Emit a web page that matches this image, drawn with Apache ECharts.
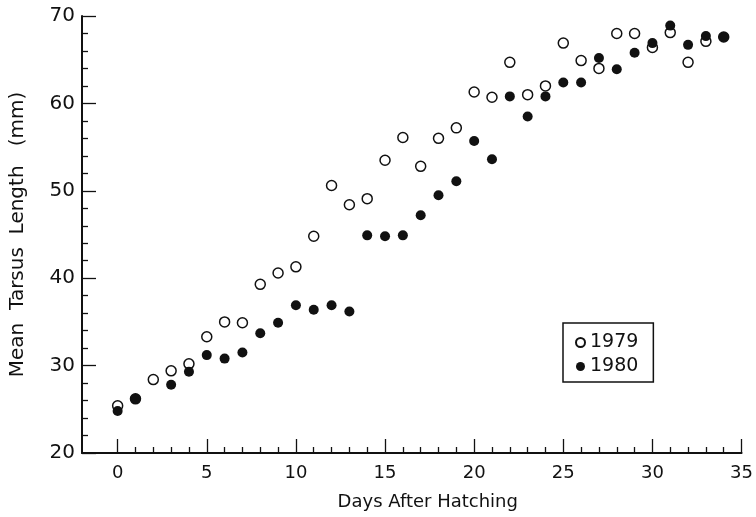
<!DOCTYPE html>
<html>
<head>
<meta charset="utf-8">
<script src="https://cdn.jsdelivr.net/npm/echarts@6/dist/echarts.min.js"></script>
<style>
  html, body { margin: 0; padding: 0; background: #fff; }
  #chart { width: 756px; height: 517px; }
</style>
</head>
<body>
<div id="chart"></div>
<script>
// 1979 (open circles)
var days1979 = [0,1,2,3,4,5,6,7,8,9,10,11,12,13,14,15,16,17,18,19,20,21,22,23,24,25,26,27,28,29,30,31,32,33,34];
var len1979  = [25.4,26.2,28.4,29.4,30.2,33.3,35.0,34.9,39.3,40.6,41.3,44.8,50.6,48.4,49.1,53.5,56.1,52.8,56.0,57.2,61.3,60.7,64.7,61.0,62.0,66.9,64.9,64.0,68.0,68.0,66.4,68.1,64.7,67.1,67.6];
// 1980 (filled circles)
var days1980 = [0,1,3,4,5,6,7,8,9,10,11,12,13,14,15,16,17,18,19,20,21,22,23,24,25,26,27,28,29,30,31,32,33,34];
var len1980  = [24.8,26.2,27.8,29.3,31.2,30.8,31.5,33.7,34.9,36.9,36.4,36.9,36.2,44.9,44.8,44.9,47.2,49.5,51.1,55.7,53.6,60.8,58.5,60.8,62.4,62.4,65.2,63.9,65.8,66.9,68.9,66.7,67.7,67.6];
var xMajorTicks = [0,5,10,15,20,25,30,35];
var xMinorTicks = [1,2,3,4,6,7,8,9,11,12,13,14,16,17,18,19,21,22,23,24,26,27,28,29,31,32,33,34];

function pairs(xs, ys){
  var out = [];
  for (var i = 0; i < xs.length; i++) out.push([xs[i], ys[i]]);
  return out;
}

var font = 'DejaVu Sans';
var ink = '#111';

var chart = echarts.init(document.getElementById('chart'));
var option = {
  backgroundColor: '#fff',
  animation: false,
  grid: { left: 82, right: 14, top: 16, bottom: 64 },
  legend: {
    orient: 'vertical',
    left: 563,
    top: 323,
    padding: [10, 15, 6, 12],
    itemGap: 5,
    itemWidth: 9,
    itemHeight: 9,
    borderColor: ink,
    borderWidth: 1.5,
    textStyle: { fontFamily: font, fontSize: 19, color: ink },
    data: ['1979', '1980']
  },
  xAxis: [
    {
      type: 'value',
      min: -2,
      max: 35,
      name: 'Days After Hatching',
      nameLocation: 'middle',
      nameGap: 40,
      nameTextStyle: { fontFamily: font, fontSize: 18, color: ink, padding: [0, 0, 0, 32] },
      axisLine: { onZero: false, lineStyle: { color: ink, width: 2 } },
      axisTick: { inside: true, length: 14, customValues: xMajorTicks, lineStyle: { color: ink, width: 1.3 } },
      axisLabel: { customValues: xMajorTicks, fontFamily: font, fontSize: 18, color: ink, margin: 11 },
      splitLine: { show: false }
    },
    {
      type: 'value',
      min: -2,
      max: 35,
      position: 'bottom',
      axisLine: { show: false, onZero: false },
      axisTick: { inside: true, length: 6, customValues: xMinorTicks, lineStyle: { color: ink, width: 1.3 } },
      axisLabel: { show: false },
      splitLine: { show: false }
    }
  ],
  yAxis: {
    type: 'value',
    min: 20,
    max: 70,
    interval: 10,
    name: 'Mean  Tarsus  Length   (mm)',
    nameLocation: 'middle',
    nameGap: 54,
    nameTextStyle: { fontFamily: font, fontSize: 20, color: ink },
    axisLine: { onZero: false, lineStyle: { color: ink, width: 2 } },
    axisTick: { inside: true, length: 14, lineStyle: { color: ink, width: 1.3 } },
    minorTick: { show: true, splitNumber: 5, length: 6, lineStyle: { color: ink, width: 1.3 } },
    axisLabel: { fontFamily: font, fontSize: 20, color: ink, margin: 7 },
    splitLine: { show: false }
  },
  series: [
    {
      name: '1979',
      type: 'scatter',
      symbol: 'circle',
      symbolSize: 10,
      itemStyle: { color: '#fff', borderColor: ink, borderWidth: 1.5, opacity: 1 },
      data: pairs(days1979, len1979)
    },
    {
      name: '1980',
      type: 'scatter',
      symbol: 'circle',
      symbolSize: 10,
      itemStyle: { color: ink, opacity: 1 },
      data: pairs(days1980, len1980)
    }
  ]
};
chart.setOption(option);
</script>
</body>
</html>
